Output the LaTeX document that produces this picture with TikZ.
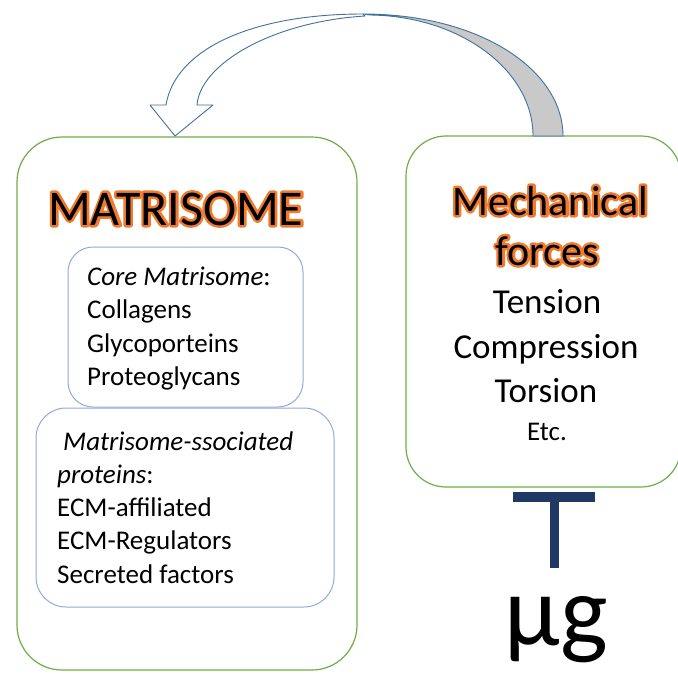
\documentclass[tikz,border=0pt]{standalone}
\usepackage{fontspec}
\setmainfont{Carlito}
\usetikzlibrary{calc}
\definecolor{boxgreen}{HTML}{70AD47}
\definecolor{boxblue}{HTML}{8FAADC}
\definecolor{arrblue}{HTML}{41719C}
\definecolor{arrgray}{HTML}{C9C9C9}
\definecolor{glowor}{HTML}{F07B2E}
\definecolor{tnavy}{HTML}{1F3864}
\newcommand\glowtxt[1]{%
  \makebox[0pt][l]{\special{pdf:literal direct 1 Tr 5 w 1 J 1 j 0.94 0.48 0.18 RG}#1\special{pdf:literal direct 0 Tr 0 0 0 RG}}%
  #1}
\begin{document}
\begin{tikzpicture}[x=1pt,y=-1pt,
  greenbox/.style={draw=boxgreen,line width=1.2pt,rounded corners=45pt,inner sep=0pt},
  bluebox/.style={draw=boxblue,line width=1pt,inner sep=0pt},
  arrowline/.style={draw=arrblue,line width=0.9pt,line join=round},
  txt/.style={inner sep=0pt,font=\fontsize{27}{33}\selectfont},
  bigtxt/.style={inner sep=0pt,font=\fontsize{35}{40}\selectfont}]
\useasboundingbox (0,0) rectangle (678,673);
% main boxes
\node[greenbox,minimum width=340,minimum height=533] (mat) at (187,403.5) {};
\node[greenbox,rounded corners=40pt,minimum width=275,minimum height=351] (mf) at (543.5,311.5) {};
\node[bluebox,rounded corners=25pt,minimum width=235,minimum height=160] (core) at (185.5,327) {};
\node[bluebox,rounded corners=30pt,minimum width=298,minimum height=199] (assoc) at (185,507.5) {};
% curved arrow from mechanical forces to matrisome
\coordinate (tailout) at (563,136);
\coordinate (tailin) at (533,136);
\coordinate (tip) at (175,136);
\draw[arrowline,fill=arrgray] (363,14) .. controls (480,14) and (563,70) .. (tailout)
  -- (tailin) .. controls (533,70) and (460,16) .. (370,15) -- cycle;
\draw[arrowline,fill=white] (363,14) .. controls (250,14) and (175,50) .. (166,105)
  -- (150,105) -- (tip) -- (213,105) -- (197,105)
  .. controls (200,65) and (270,22) .. (365,16) -- cycle;
% titles
\node[inner sep=0pt,anchor=base west,font=\fontsize{50}{56}\selectfont] (mtitle) at (48,225) {\glowtxt{MATRISOME}};
\node[inner sep=0pt,anchor=base,font=\fontsize{42}{46}\selectfont] (mech1) at (550,215) {\glowtxt{Mechanical}};
\node[inner sep=0pt,anchor=base,font=\fontsize{42}{46}\selectfont] (mech2) at (547,265) {\glowtxt{forces}};
% forces list
\node[bigtxt,anchor=base] (f1) at (547,313) {Tension};
\node[bigtxt,anchor=base] (f2) at (546,358) {Compression};
\node[bigtxt,anchor=base] (f3) at (546,402) {Torsion};
\node[txt,anchor=base] (f4) at (547,440) {Etc.};
% core matrisome
\node[txt,anchor=base west] (c1) at (87,285) {\textit{Core Matrisome}:};
\node[txt,anchor=base west] (c2) at (87,318) {Collagens};
\node[txt,anchor=base west] (c3) at (87,352) {Glycoporteins};
\node[txt,anchor=base west] (c4) at (87,385) {Proteoglycans};
% associated
\node[txt,anchor=base west] (a1) at (63,450) {\textit{Matrisome-ssociated}};
\node[txt,anchor=base west] (a2) at (57,483) {\textit{proteins}:};
\node[txt,anchor=base west] (a3) at (57,516) {ECM-affiliated};
\node[txt,anchor=base west] (a4) at (57,549) {ECM-Regulators};
\node[txt,anchor=base west] (a5) at (57,583) {Secreted factors};
% T symbol and micro-g
\coordinate (tl) at (513,497);
\coordinate (tr) at (595,497);
\coordinate (ttop) at (554.5,497);
\coordinate (tbot) at (554.5,568);
\draw[tnavy,line width=10pt] (tl) -- (tr);
\draw[tnavy,line width=9pt] (ttop) -- (tbot);
\node[inner sep=0pt,anchor=base,font=\fontsize{101}{112}\selectfont] (mug) at (556,645) {µg};
\end{tikzpicture}
\end{document}
